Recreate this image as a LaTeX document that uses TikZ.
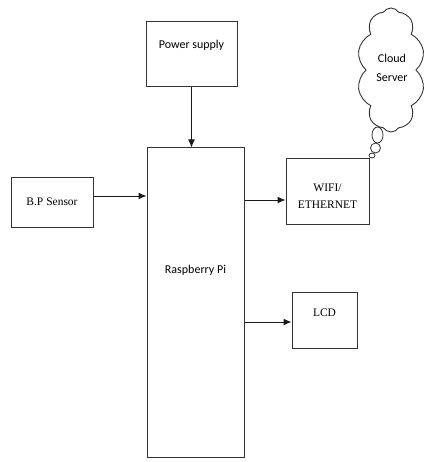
\documentclass[tikz,border=0pt]{standalone}
\usepackage{fontspec}
\setmainfont{Liberation Serif}
\newfontfamily\calfont{Carlito}
\usetikzlibrary{shapes.symbols,shapes.geometric,arrows.meta}
\begin{document}
\begin{tikzpicture}[x=1pt,y=-1pt,
  box/.style={draw=black!80,line width=1pt,rectangle,inner sep=0pt},
  arr/.style={draw=black!90,line width=1pt,-{Latex[length=8pt,width=7pt]}},
  serif/.style={font=\fontsize{11.5}{13}\selectfont},
  sans/.style={font=\calfont\fontsize{12}{13}\selectfont},
  bub/.style={ellipse,draw=black!80,line width=0.8pt,inner sep=0pt}]
\useasboundingbox (0,0) rectangle (427,462);
\node[box,minimum width=91pt,minimum height=65pt] (power) at (191.5,54.5) {};
\node[sans] (powert) at (191.5,45) {Power supply};
\node[box,minimum width=97pt,minimum height=309pt] (rpi) at (195.5,302.5) {};
\node[sans] (rpit) at (195.5,270) {Raspberry Pi};
\node[box,minimum width=82pt,minimum height=49pt] (bp) at (52,202.5) {};
\node[serif] (bpt) at (52,202) {B.P Sensor};
\node[box,minimum width=83pt,minimum height=65pt] (wifi) at (327.5,191.5) {};
\node[serif,align=center] (wifit) at (327.5,196) {WIFI/\\[4pt]ETHERNET};
\node[box,minimum width=65pt,minimum height=56pt] (lcd) at (324.5,320) {};
\node[serif] (lcdt) at (324.5,313) {LCD};
\node[cloud,draw=black!80,line width=0.9pt,cloud puffs=10,cloud puff arc=115,cloud ignores aspect,minimum width=68pt,minimum height=124pt,inner sep=0pt] (cloud) at (391,70) {};
\node[sans,align=center] (cloudt) at (392,68) {Cloud\\[6pt]Server};
\node[bub,minimum width=11pt,minimum height=16pt] (c1) at (377.5,135) {};
\node[bub,minimum width=10pt,minimum height=10pt] (c2) at (375.5,148) {};
\node[bub,minimum width=6pt,minimum height=5pt] (c3) at (372,155.5) {};
\coordinate (bpo) at ([yshift=6.5pt]bp.east);
\coordinate (wifin) at ([yshift=-8.5pt]wifi.west);
\coordinate (lcdin) at ([yshift=-2pt]lcd.west);
\draw[arr] (power.south) -- (power.south |- rpi.north);
\draw[arr] (bpo) -- (bpo -| rpi.west);
\draw[arr] (rpi.east |- wifin) -- (wifin);
\draw[arr] (rpi.east |- lcdin) -- (lcdin);
\end{tikzpicture}
\end{document}
